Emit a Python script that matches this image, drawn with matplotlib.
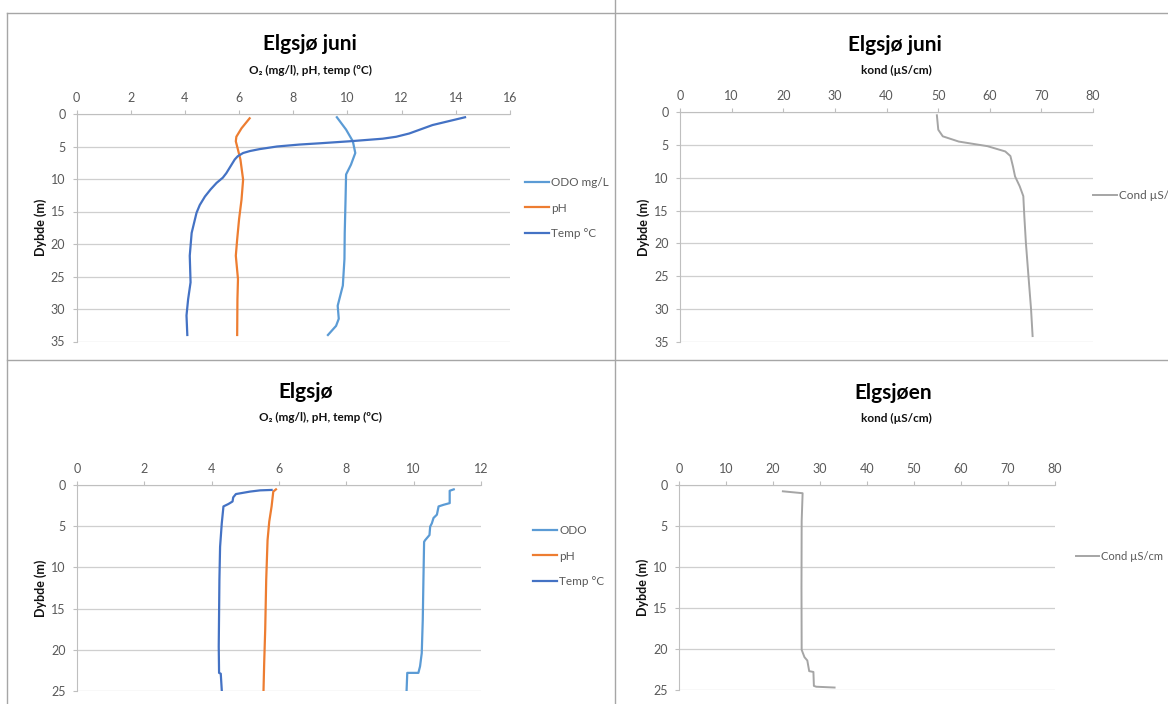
import matplotlib.pyplot as plt
from matplotlib.lines import Line2D

W, H = 1168, 704

# Elgsjø juni: depth (m) and O2, pH, temperature
juni_odo_depth = [0.5, 2.4, 4.2, 6.0, 7.8, 9.3, 13.2, 18.3, 22.3, 26.4, 29.5, 31.5, 32.6, 34.0]
juni_odo = [9.61, 9.95, 10.2, 10.29, 10.13, 9.95, 9.93, 9.90, 9.89, 9.83, 9.64, 9.68, 9.58, 9.28]

juni_ph_depth = [0.66, 2.2, 3.5, 4.2, 5.5, 7.0, 10.1, 13.2, 16.2, 19.3, 21.8, 25.4, 28.5, 34.0]
juni_ph = [6.39, 6.09, 5.90, 5.88, 5.96, 6.05, 6.15, 6.09, 6.00, 5.93, 5.88, 5.96, 5.94, 5.93]

juni_temp_depth = [0.5, 1.7, 3.0, 3.5, 3.8, 4.2, 4.5, 4.7, 5.0, 5.4, 5.7, 6.0, 6.5, 7.0, 9.1, 9.8,
                   10.6, 11.6, 12.7, 14.0, 15.2, 18.3, 21.8, 25.9, 28.5, 31.0, 34.0]
juni_temp = [14.34, 13.14, 12.28, 11.8, 11.3, 10.07, 9.0, 8.23, 7.4, 6.76, 6.4, 6.15, 5.95, 5.84,
             5.53, 5.40, 5.17, 4.95, 4.74, 4.55, 4.43, 4.25, 4.18, 4.21, 4.12, 4.06, 4.09]

# Elgsjø juni: conductivity
juni_cond_depth = [0.5, 2.7, 3.7, 4.5, 5.2, 6.0, 6.7, 8.3, 9.8, 11.3, 12.8, 15.9, 19.9, 25.0, 30.0, 34.1]
juni_cond = [49.76, 50.03, 50.9, 54.0, 59.56, 63.0, 64.0, 64.5, 64.9, 65.8, 66.5, 66.7, 67.0, 67.5, 68.0, 68.3]

# Elgsjø: depth (m) and O2, pH, temperature
elg_odo_depth = [0.53, 0.7, 2.2, 2.4, 2.6, 3.6, 4.0, 4.65, 5.05, 6.07, 6.7, 6.9, 11.5, 16.4,
                 20.4, 22.0, 22.8, 22.8, 24.9]
elg_odo = [11.19, 11.07, 11.07, 10.89, 10.74, 10.69, 10.59, 10.54, 10.49, 10.47, 10.34, 10.31,
           10.29, 10.27, 10.24, 10.19, 10.14, 9.81, 9.79]

elg_ph_depth = [0.53, 0.8, 2.6, 4.45, 6.7, 11.5, 17.6, 21.6, 24.9]
elg_ph = [5.91, 5.83, 5.78, 5.71, 5.66, 5.62, 5.59, 5.56, 5.54]

elg_temp_depth = [0.6, 0.65, 0.8, 1.1, 1.5, 2.0, 2.3, 2.6, 4.65, 7.5, 11.5, 15.6, 19.6, 22.8, 22.9, 24.9]
elg_temp = [5.78, 5.44, 5.14, 4.72, 4.64, 4.62, 4.50, 4.35, 4.30, 4.25, 4.23, 4.22, 4.21, 4.22, 4.27, 4.30]

# Elgsjøen: conductivity
elg_cond_depth = [0.77, 1.0, 4.4, 12.5, 20.1, 21.0, 21.4, 22.7, 22.8, 24.5, 24.6, 24.7]
elg_cond = [22.1, 26.3, 26.1, 26.06, 26.1, 26.7, 27.3, 27.7, 28.6, 28.7, 29.2, 33.1]

C_ODO = "#5B9BD5"
C_PH = "#ED7D31"
C_TEMP = "#4472C4"
C_COND = "#A5A5A5"
GRID = "#CFCFCF"
AXIS = "#BFBFBF"
LABEL = "#595959"

plt.rcParams["font.family"] = ["Lato", "DejaVu Sans"]

fig = plt.figure(figsize=(W / 100, H / 100), dpi=100)


def px_axes(x0, y0, x1, y1):
    return fig.add_axes([x0 / W, 1 - y1 / H, (x1 - x0) / W, (y1 - y0) / H])


def ftext(x, y, s, **kw):
    fig.text(x / W, 1 - y / H, s, ha="center", va="center", **kw)


def style(ax, xmax, xstep, ymax):
    ax.set_xlim(0, xmax)
    ax.set_ylim(ymax, 0)
    ax.set_xticks(range(0, xmax + 1, xstep))
    ax.set_yticks(range(0, ymax + 1, 5))
    ax.xaxis.tick_top()
    ax.tick_params(axis="x", direction="out", length=3, color=AXIS,
                   labelsize=9, labelcolor=LABEL, pad=4)
    ax.tick_params(axis="y", direction="out", length=3, color=AXIS,
                   labelsize=9, labelcolor=LABEL, pad=5)
    for side in ["right", "bottom"]:
        ax.spines[side].set_visible(False)
    for side in ["top", "left"]:
        ax.spines[side].set_color(AXIS)
        ax.spines[side].set_linewidth(0.8)
    ax.grid(axis="y", color=GRID, linewidth=0.9)
    ax.grid(axis="x", visible=False)
    ax.set_axisbelow(True)
    ax.set_ylabel("Dybde (m)", fontsize=9, fontweight="bold", color="#111111", labelpad=3)


def legend(ax, x, y, size=8.5):
    ax.legend(loc="center left", bbox_to_anchor=(x / W, 1 - y / H),
              bbox_transform=fig.transFigure, frameon=False, fontsize=size,
              handlelength=2.1, handletextpad=0.15, labelspacing=1.2,
              labelcolor=LABEL)


# top left
ax1 = px_axes(76.5, 114, 510, 341.5)
ax1.plot(juni_odo, juni_odo_depth, color=C_ODO, lw=1.6, label="ODO mg/L")
ax1.plot(juni_ph, juni_ph_depth, color=C_PH, lw=1.6, label="pH")
ax1.plot(juni_temp, juni_temp_depth, color=C_TEMP, lw=1.6, label="Temp °C")
style(ax1, 16, 2, 35)
legend(ax1, 514, 208)
ftext(310, 44, "Elgsjø juni", fontsize=15, fontweight="bold")
ftext(310, 70, "O₂ (mg/l), pH, temp (ºC)", fontsize=8.5, fontweight="bold", color="#111111")

# top right
ax2 = px_axes(680, 112, 1093, 342)
ax2.plot(juni_cond, juni_cond_depth, color=C_COND, lw=1.4, label="Cond µS/cm")
style(ax2, 80, 10, 35)
legend(ax2, 1082, 196)
ftext(895, 45, "Elgsjø juni", fontsize=15, fontweight="bold")
ftext(896, 70, "kond (µS/cm)", fontsize=8.5, fontweight="bold", color="#111111")

# bottom left
ax3 = px_axes(77, 485, 481, 691)
ax3.plot(elg_odo, elg_odo_depth, color=C_ODO, lw=1.6, label="ODO")
ax3.plot(elg_ph, elg_ph_depth, color=C_PH, lw=1.6, label="pH")
ax3.plot(elg_temp, elg_temp_depth, color=C_TEMP, lw=1.6, label="Temp °C")
style(ax3, 12, 2, 25)
legend(ax3, 522, 556)
ftext(306, 392, "Elgsjø", fontsize=15, fontweight="bold")
ftext(320, 417, "O₂ (mg/l), pH, temp (ºC)", fontsize=8.5, fontweight="bold", color="#111111")

# bottom right
ax4 = px_axes(679, 485, 1055, 690)
ax4.plot(elg_cond, elg_cond_depth, color=C_COND, lw=1.4, label="Cond µS/cm")
style(ax4, 80, 10, 25)
legend(ax4, 1066, 556, size=8)
ftext(893, 393, "Elgsjøen", fontsize=15, fontweight="bold")
ftext(896, 418, "kond (µS/cm)", fontsize=8.5, fontweight="bold", color="#111111")

# frames between the charts
frame = dict(color="#A6A6A6", linewidth=1.0)
for xs, ys in [((7, W), (13, 13)), ((7, 7), (13, H)), ((615, 615), (0, H)), ((7, W), (360, 360))]:
    fig.add_artist(Line2D([x / W for x in xs], [1 - y / H for y in ys],
                          transform=fig.transFigure, **frame))

fig.savefig("out.png", dpi=100, facecolor="white")
